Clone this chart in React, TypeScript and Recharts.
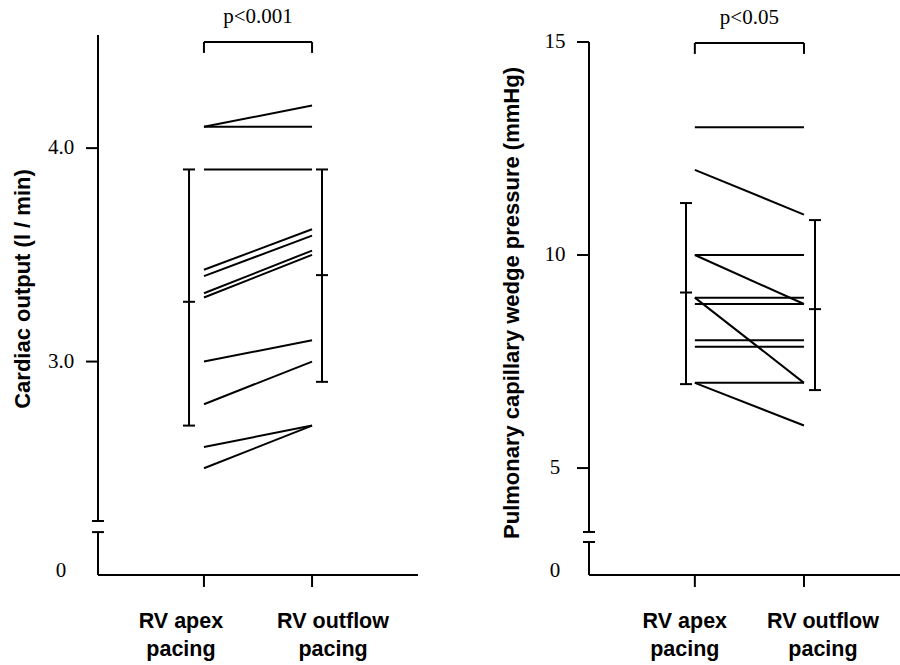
import { ComposedChart, Line, Scatter, ErrorBar, XAxis, YAxis, ReferenceLine } from 'recharts'

// x-axis categories, split in two lines as printed
const conditionLines = [['RV apex', 'pacing'], ['RV outflow', 'pacing']]

// cardiac output (l/min), one value per patient
const coApex = [4.1, 4.1, 3.9, 3.43, 3.4, 3.32, 3.3, 3.0, 2.8, 2.6, 2.5]
const coOutflow = [4.2, 4.1, 3.9, 3.62, 3.59, 3.52, 3.5, 3.1, 3.0, 2.7, 2.7]
const coMean = [3.28, 3.405]
const coSdLow = [0.58, 0.5]
const coSdHigh = [0.62, 0.495]
const coTicks = [3, 4]
const coTickLabels = ['3.0', '4.0']

// pulmonary capillary wedge pressure (mmHg)
const pcwpApex = [13, 12, 10, 10, 9.0, 8.85, 9.0, 8.0, 7.85, 7.0, 7.0]
const pcwpOutflow = [13, 10.95, 10, 8.85, 9.0, 8.85, 7.0, 8.0, 7.85, 7.0, 6.0]
const pcwpMean = [9.12, 8.73]
const pcwpSdLow = [2.15, 1.9]
const pcwpSdHigh = [2.1, 2.09]
const pcwpTicks = [5, 10, 15]
const pcwpTickLabels = ['5', '10', '15']

const INK = '#000'
const SERIF = "'Liberation Serif', 'Times New Roman', serif"
const SANS = "'Liberation Sans', Arial, sans-serif"

function MeanTick(props: any) {
  const { cx, cy } = props
  return <line x1={cx - 6} x2={cx + 6} y1={cy} y2={cy} stroke={INK} strokeWidth={2} />
}

function XTick(props: any) {
  const { x, y, index, shifts } = props
  const lines = conditionLines[index] || []
  return (
    <g>
      {lines.map((t: string, i: number) => (
        <text key={i} x={x + shifts[index]} y={y + 39 + i * 28} textAnchor="middle"
          fontFamily={SANS} fontWeight={700} fontSize={21.5} fill={INK}>{t}</text>
      ))}
    </g>
  )
}

function YTick(props: any) {
  const { x, y, payload, ticks, labels, zero, labelGap } = props
  const v = payload.value
  if (v === zero) {
    return (
      <text x={x - labelGap} y={y + 2} textAnchor="middle" fontFamily={SERIF} fontSize={21} fill={INK}>0</text>
    )
  }
  const label = labels[ticks.indexOf(v)]
  return (
    <g>
      <line x1={x - 12} x2={x} y1={y} y2={y} stroke={INK} strokeWidth={2} />
      <text x={x - labelGap} y={y + 6} textAnchor="middle" fontFamily={SERIF} fontSize={21} fill={INK}>{label}</text>
    </g>
  )
}

function AxisTitle(props: any) {
  const { text, tx, ty } = props
  return (
    <text x={tx} y={ty} transform={`rotate(-90 ${tx} ${ty})`} textAnchor="middle" dominantBaseline="central"
      fontFamily={SANS} fontWeight={700} fontSize={22} fill={INK}>{text}</text>
  )
}

interface PanelProps {
  apex: number[]
  outflow: number[]
  mean: number[]
  sdLow: number[]
  sdHigh: number[]
  ticks: number[]
  tickLabels: string[]
  yDomain: [number, number]
  xDomain: [number, number]
  breakTop: number
  breakBottom: number
  axisTop: number
  bracketY: number
  bracketFoot: number
  pText: string
  sdShift: [number, number]
  labelShift: number[]
  axisWidth: number
  top: number
  right: number
  labelGap: number
  title: string
  titleX: number
  titleY: number
}

function Panel(p: PanelProps) {
  const pairs = p.apex.map((a, i) => [{ x: 1, y: a }, { x: 2, y: p.outflow[i] }])
  const sd = p.mean.map((m, i) => ({
    x: i === 0 ? 1 - p.sdShift[0] : 2 + p.sdShift[1],
    y: m,
    err: [p.sdLow[i], p.sdHigh[i]],
  }))
  const ax = p.xDomain[0]
  const zero = p.yDomain[0]
  const cap = 0.055
  const seg = { stroke: INK, strokeWidth: 2, ifOverflow: 'visible' as const }

  return (
    <ComposedChart width={450} height={665} margin={{ top: p.top, right: p.right, bottom: 0, left: 0 }}>
      <XAxis type="number" dataKey="x" domain={p.xDomain} allowDataOverflow ticks={[1, 2]} interval={0}
        height={90} tickSize={12} tickMargin={2}
        tick={<XTick shifts={p.labelShift} />}
        tickLine={{ stroke: INK, strokeWidth: 2 }}
        axisLine={{ stroke: INK, strokeWidth: 2 }} />
      <YAxis type="number" dataKey="y" domain={p.yDomain} allowDataOverflow ticks={[zero, ...p.ticks]} interval={0}
        width={p.axisWidth} tickSize={0} tickMargin={0} tickLine={false} axisLine={false}
        tick={<YTick ticks={p.ticks} labels={p.tickLabels} zero={zero} labelGap={p.labelGap} />}
        label={<AxisTitle text={p.title} tx={p.titleX} ty={p.titleY} />} />

      {/* broken y axis */}
      <ReferenceLine segment={[{ x: ax, y: p.breakTop }, { x: ax, y: p.axisTop }]} {...seg} />
      <ReferenceLine segment={[{ x: ax - cap, y: p.breakTop }, { x: ax + cap, y: p.breakTop }]} {...seg} />
      <ReferenceLine segment={[{ x: ax, y: zero }, { x: ax, y: p.breakBottom }]} {...seg} />
      <ReferenceLine segment={[{ x: ax - cap, y: p.breakBottom }, { x: ax + cap, y: p.breakBottom }]} {...seg} />

      {/* significance bracket */}
      <ReferenceLine segment={[{ x: 1, y: p.bracketY }, { x: 2, y: p.bracketY }]} {...seg}
        label={{ value: p.pText, position: 'top', offset: 19, fill: INK, fontSize: 21, fontFamily: SERIF }} />
      <ReferenceLine segment={[{ x: 1, y: p.bracketY }, { x: 1, y: p.bracketFoot }]} {...seg} />
      <ReferenceLine segment={[{ x: 2, y: p.bracketY }, { x: 2, y: p.bracketFoot }]} {...seg} />

      {pairs.map((d, i) => (
        <Line key={i} data={d} dataKey="y" stroke={INK} strokeWidth={2} dot={false}
          activeDot={false} isAnimationActive={false} />
      ))}

      <Scatter data={sd} dataKey="y" shape={MeanTick} isAnimationActive={false}>
        <ErrorBar dataKey="err" direction="y" width={6} stroke={INK} strokeWidth={2} isAnimationActive={false} />
      </Scatter>
    </ComposedChart>
  )
}

export default function App() {
  return (
    <div style={{ position: 'absolute', left: 0, top: 0, width: 900, height: 665, background: '#fff', overflow: 'hidden' }}>
      <div style={{ position: 'absolute', left: 0, top: 0 }}>
        <Panel
          apex={coApex} outflow={coOutflow} mean={coMean} sdLow={coSdLow} sdHigh={coSdHigh}
          ticks={coTicks} tickLabels={coTickLabels}
          yDomain={[2.0, 4.53]} xDomain={[0.02, 2.98]}
          breakTop={2.253} breakBottom={2.201} axisTop={4.53}
          bracketY={4.497} bracketFoot={4.446} pText="p<0.001"
          sdShift={[0.138, 0.092]} labelShift={[-23, 21]}
          axisWidth={98} top={35} right={32} labelGap={37}
          title="Cardiac output (l / min)" titleX={22} titleY={289}
        />
      </div>
      <div style={{ position: 'absolute', left: 450, top: 0 }}>
        <Panel
          apex={pcwpApex} outflow={pcwpOutflow} mean={pcwpMean} sdLow={pcwpSdLow} sdHigh={pcwpSdHigh}
          ticks={pcwpTicks} tickLabels={pcwpTickLabels}
          yDomain={[2.49, 15]} xDomain={[0.03, 2.88]}
          breakTop={3.5} breakBottom={3.265} axisTop={15}
          bracketY={14.977} bracketFoot={14.72} pText="p<0.05"
          sdShift={[0.081, 0.101]} labelShift={[-10, 19]}
          axisWidth={139} top={42} right={0} labelGap={34}
          title="Pulmonary capillary wedge pressure (mmHg)" titleX={61} titleY={303}
        />
      </div>
    </div>
  )
}
